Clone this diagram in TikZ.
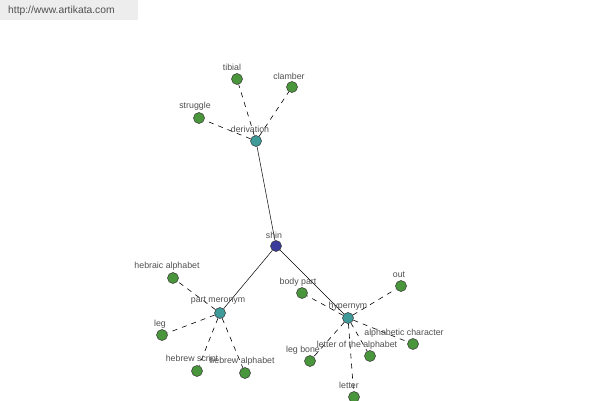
\documentclass[tikz,border=0pt]{standalone}
\usepackage{fontspec}
\setmainfont{Liberation Sans}
\definecolor{leafc}{HTML}{4A963C}
\definecolor{hubc}{HTML}{3F9A9A}
\definecolor{rootc}{HTML}{3C3C9C}
\definecolor{labc}{HTML}{505050}
\definecolor{hdrbg}{HTML}{EDEDED}
\definecolor{hdrtx}{HTML}{505050}
\begin{document}
\begin{tikzpicture}[x=1pt,y=-1pt,
  dot/.style={circle,draw=black!80,line width=0.5pt,minimum size=11pt,inner sep=0pt},
  leaf/.style={dot,fill=leafc},
  hub/.style={dot,fill=hubc},
  root/.style={dot,fill=rootc},
  lab/.style={font=\fontsize{8.8}{10}\selectfont,text=labc,inner sep=0pt},
  solidedge/.style={draw=black,line width=0.5pt},
  dashedge/.style={draw=black,line width=0.6pt,dash pattern=on 5pt off 5pt}]
\useasboundingbox (0,0) rectangle (600,400);
\fill[white] (0,0) rectangle (600,400);
\fill[hdrbg] (0,0) rectangle (138,20);
\node[font=\fontsize{10.3}{12}\selectfont,text=hdrtx,anchor=west,inner sep=0pt] (hdr) at (8,11) {http://www.artikata.com};

% nodes
\node[root] (shin) at (276,246) {};
\node[hub] (deriv) at (256,141) {};
\node[hub] (pm) at (220,313) {};
\node[hub] (hyp) at (348,318) {};
\node[leaf] (tibial) at (237,79) {};
\node[leaf] (clamber) at (292,87) {};
\node[leaf] (struggle) at (199,118) {};
\node[leaf] (hebraic) at (173,278) {};
\node[leaf] (leg) at (162,335) {};
\node[leaf] (hscript) at (197,371) {};
\node[leaf] (halpha) at (245,373) {};
\node[leaf] (body) at (302,293) {};
\node[leaf] (out) at (401,286) {};
\node[leaf] (alphchar) at (413,344) {};
\node[leaf] (lotalpha) at (370,356) {};
\node[leaf] (legbone) at (310,361) {};
\node[leaf] (letter) at (354,397) {};

% edges
\draw[solidedge] (shin) -- (deriv);
\draw[solidedge] (shin) -- (pm);
\draw[solidedge] (shin) -- (hyp);
\foreach \t in {tibial,clamber,struggle} \draw[dashedge] (deriv) -- (\t);
\foreach \t in {hebraic,leg,hscript,halpha} \draw[dashedge] (pm) -- (\t);
\foreach \t in {body,out,alphchar,lotalpha,legbone,letter} \draw[dashedge] (hyp) -- (\t);

% labels
\node[lab] (l-shin) at (274,235) {shin};
\node[lab] (l-deriv) at (250,129) {derivation};
\node[lab] (l-tibial) at (232,67) {tibial};
\node[lab] (l-clamber) at (289,76) {clamber};
\node[lab] (l-struggle) at (195,106) {struggle};
\node[lab] (l-hebraic) at (167,266) {hebraic alphabet};
\node[lab] (l-pm) at (218,301) {part meronym};
\node[lab] (l-leg) at (160,324) {leg};
\node[lab] (l-hscript) at (192,359) {hebrew script};
\node[lab] (l-halpha) at (242,361) {hebrew alphabet};
\node[lab] (l-body) at (298,282) {body part};
\node[lab] (l-hyp) at (348,306) {hypernym};
\node[lab] (l-out) at (399,275) {out};
\node[lab] (l-alphchar) at (404,333) {alphabetic character};
\node[lab] (l-lotalpha) at (357,345) {letter of the alphabet};
\node[lab] (l-legbone) at (303,350) {leg bone};
\node[lab] (l-letter) at (349,385) {letter};
\end{tikzpicture}
\end{document}
